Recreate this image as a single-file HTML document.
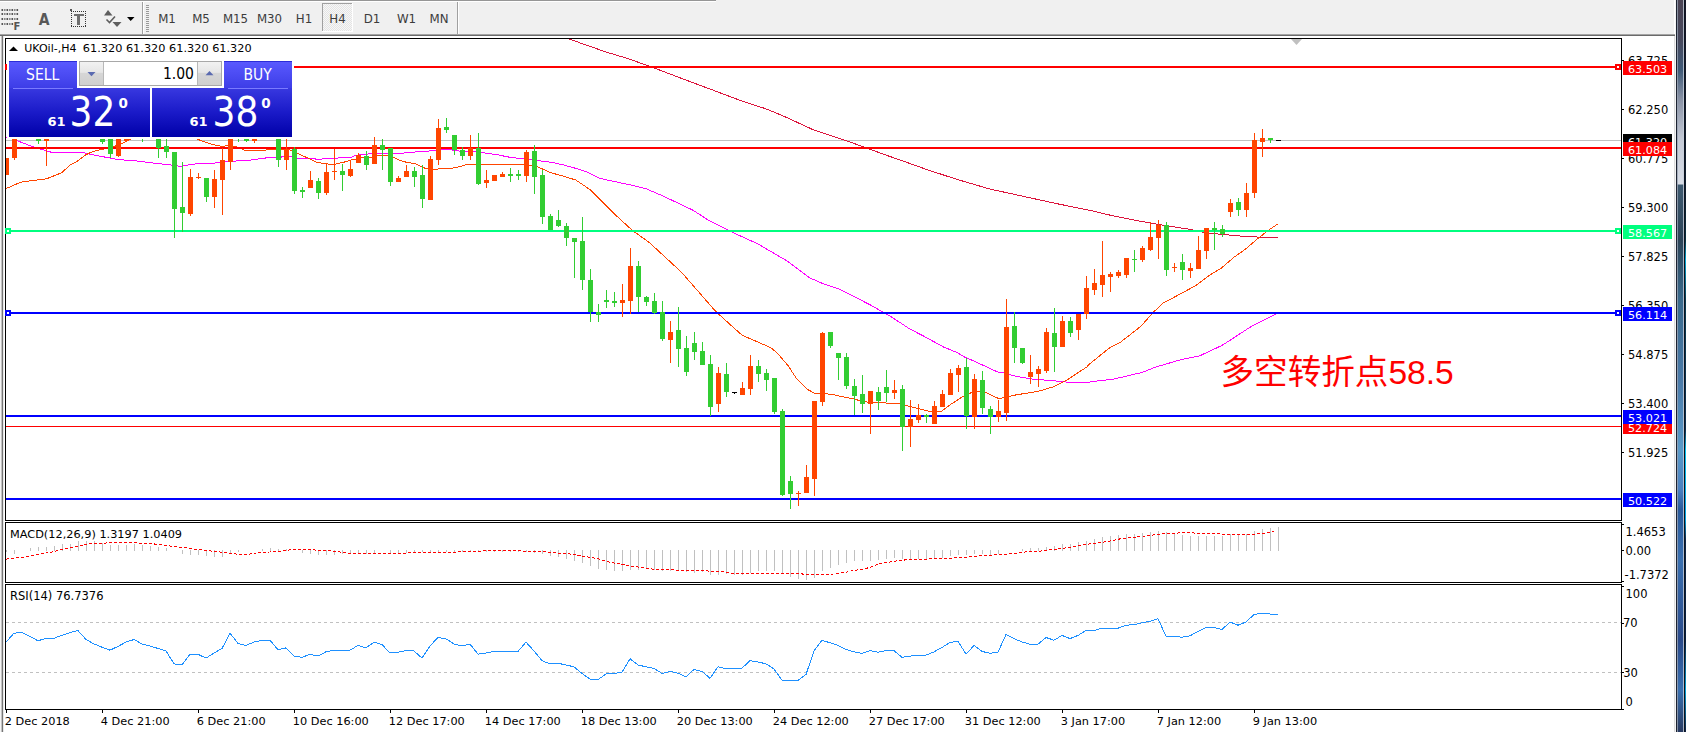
<!DOCTYPE html><html><head><meta charset="utf-8"><title>UKOil H4</title><style>
html,body{margin:0;padding:0;width:1686px;height:732px;overflow:hidden;background:#fff;}
svg{display:block;}
.t{font-family:"DejaVu Sans","Liberation Sans",sans-serif;}
.c{font-family:"DejaVu Sans Condensed","DejaVu Sans","Liberation Sans",sans-serif;font-stretch:condensed;}
.tb{font-family:"DejaVu Sans","Liberation Sans",sans-serif;fill:#3c3c3c;font-size:11.8px;}
</style></head><body>
<svg width="1686" height="732" viewBox="0 0 1686 732">
<defs>
<linearGradient id="gSellTop" x1="0" y1="0" x2="0" y2="1"><stop offset="0" stop-color="#5a5aff"/><stop offset="1" stop-color="#3c3ce6"/></linearGradient>
<linearGradient id="gPrice" x1="0" y1="0" x2="0" y2="1"><stop offset="0" stop-color="#3838e0"/><stop offset="0.5" stop-color="#1a1ac8"/><stop offset="1" stop-color="#0000a8"/></linearGradient>
<linearGradient id="gBtn" x1="0" y1="0" x2="0" y2="1"><stop offset="0" stop-color="#f2f2f2"/><stop offset="0.45" stop-color="#e6e6e6"/><stop offset="0.5" stop-color="#d6d6d6"/><stop offset="1" stop-color="#cfcfcf"/></linearGradient>
<linearGradient id="gFrame" x1="0" y1="0" x2="0" y2="732" gradientUnits="userSpaceOnUse"><stop offset="0.0000" stop-color="#4b4454"/><stop offset="0.0546" stop-color="#47485c"/><stop offset="0.0956" stop-color="#3f5a78"/><stop offset="0.1366" stop-color="#8a93a6"/><stop offset="0.1913" stop-color="#c4cad6"/><stop offset="0.2514" stop-color="#d8dde6"/><stop offset="0.2527" stop-color="#3e5a70"/><stop offset="0.3279" stop-color="#2c4458"/><stop offset="0.4098" stop-color="#3a6a8c"/><stop offset="0.5191" stop-color="#4a7aa8"/><stop offset="0.6148" stop-color="#5a9ac8"/><stop offset="0.6694" stop-color="#4a80c0"/><stop offset="0.6967" stop-color="#2a5a9a"/><stop offset="0.7650" stop-color="#3a70b0"/><stop offset="0.8743" stop-color="#2a4a8a"/><stop offset="0.9426" stop-color="#3a70b0"/><stop offset="1.0000" stop-color="#283a60"/></linearGradient>
<linearGradient id="gEdge" x1="0" y1="0" x2="0" y2="732" gradientUnits="userSpaceOnUse"><stop offset="0.0000" stop-color="#181828"/><stop offset="0.2732" stop-color="#102030"/><stop offset="0.3279" stop-color="#0a3040"/><stop offset="0.3552" stop-color="#00a8d8"/><stop offset="0.4098" stop-color="#0a3a50"/><stop offset="0.5874" stop-color="#103050"/><stop offset="0.6148" stop-color="#00c0f0"/><stop offset="0.7104" stop-color="#00a0e0"/><stop offset="0.7377" stop-color="#102848"/><stop offset="0.8743" stop-color="#0a2040"/><stop offset="0.9426" stop-color="#00a0d8"/><stop offset="1.0000" stop-color="#102040"/></linearGradient>
<pattern id="pDot" width="2" height="2" patternUnits="userSpaceOnUse"><rect width="2" height="2" fill="#f7f7f7"/><rect width="1" height="1" fill="#e4e4e4"/><rect x="1" y="1" width="1" height="1" fill="#e4e4e4"/></pattern>
</defs>
<rect x="0" y="0" width="1674" height="34" fill="#f0f0f0"/>
<rect x="0" y="0" width="716" height="1" fill="#969696"/>
<rect x="0" y="1" width="716" height="1" fill="#ffffff"/>
<rect x="0" y="34" width="1675" height="1" fill="#a4a4a4"/>
<rect x="0" y="35" width="1675" height="1" fill="#6a6a6a"/>
<rect x="1.5" y="9" width="1.6" height="2" fill="#555"/>
<rect x="4" y="9" width="1.6" height="2" fill="#8a8a8a"/>
<rect x="6.5" y="9" width="1.6" height="2" fill="#555"/>
<rect x="9" y="9" width="1.6" height="2" fill="#8a8a8a"/>
<rect x="11.5" y="9" width="1.6" height="2" fill="#555"/>
<rect x="14" y="9" width="1.6" height="2" fill="#8a8a8a"/>
<rect x="16.5" y="9" width="1.6" height="2" fill="#555"/>
<rect x="1.5" y="13" width="1.6" height="2" fill="#555"/>
<rect x="4" y="13" width="1.6" height="2" fill="#8a8a8a"/>
<rect x="6.5" y="13" width="1.6" height="2" fill="#555"/>
<rect x="9" y="13" width="1.6" height="2" fill="#8a8a8a"/>
<rect x="11.5" y="13" width="1.6" height="2" fill="#555"/>
<rect x="14" y="13" width="1.6" height="2" fill="#8a8a8a"/>
<rect x="16.5" y="13" width="1.6" height="2" fill="#555"/>
<rect x="1.5" y="18" width="1.6" height="2" fill="#555"/>
<rect x="4" y="18" width="1.6" height="2" fill="#8a8a8a"/>
<rect x="6.5" y="18" width="1.6" height="2" fill="#555"/>
<rect x="9" y="18" width="1.6" height="2" fill="#8a8a8a"/>
<rect x="11.5" y="18" width="1.6" height="2" fill="#555"/>
<rect x="14" y="18" width="1.6" height="2" fill="#8a8a8a"/>
<rect x="16.5" y="18" width="1.6" height="2" fill="#555"/>
<rect x="1.5" y="23" width="1.6" height="2" fill="#555"/>
<rect x="4" y="23" width="1.6" height="2" fill="#8a8a8a"/>
<rect x="6.5" y="23" width="1.6" height="2" fill="#555"/>
<rect x="9" y="23" width="1.6" height="2" fill="#8a8a8a"/>
<rect x="11.5" y="23" width="1.6" height="2" fill="#555"/>
<text x="13.6" y="30" class="t" style="font-size:10px;font-weight:bold;fill:#555">F</text>
<text x="38.8" y="24.6" class="c" style="font-size:15.5px;font-weight:bold;fill:#585858">A</text>
<rect x="71" y="11" width="1" height="1" fill="#333"/><rect x="71" y="26" width="1" height="1" fill="#333"/>
<rect x="73" y="11" width="1" height="1" fill="#333"/><rect x="73" y="26" width="1" height="1" fill="#333"/>
<rect x="75" y="11" width="1" height="1" fill="#333"/><rect x="75" y="26" width="1" height="1" fill="#333"/>
<rect x="77" y="11" width="1" height="1" fill="#333"/><rect x="77" y="26" width="1" height="1" fill="#333"/>
<rect x="79" y="11" width="1" height="1" fill="#333"/><rect x="79" y="26" width="1" height="1" fill="#333"/>
<rect x="81" y="11" width="1" height="1" fill="#333"/><rect x="81" y="26" width="1" height="1" fill="#333"/>
<rect x="83" y="11" width="1" height="1" fill="#333"/><rect x="83" y="26" width="1" height="1" fill="#333"/>
<rect x="85" y="11" width="1" height="1" fill="#333"/><rect x="85" y="26" width="1" height="1" fill="#333"/>
<rect x="71" y="13" width="1" height="1" fill="#333"/><rect x="85" y="13" width="1" height="1" fill="#333"/>
<rect x="71" y="15" width="1" height="1" fill="#333"/><rect x="85" y="15" width="1" height="1" fill="#333"/>
<rect x="71" y="17" width="1" height="1" fill="#333"/><rect x="85" y="17" width="1" height="1" fill="#333"/>
<rect x="71" y="19" width="1" height="1" fill="#333"/><rect x="85" y="19" width="1" height="1" fill="#333"/>
<rect x="71" y="21" width="1" height="1" fill="#333"/><rect x="85" y="21" width="1" height="1" fill="#333"/>
<rect x="71" y="23" width="1" height="1" fill="#333"/><rect x="85" y="23" width="1" height="1" fill="#333"/>
<rect x="71" y="25" width="1" height="1" fill="#333"/><rect x="85" y="25" width="1" height="1" fill="#333"/>
<rect x="70" y="9" width="2" height="2" fill="#555"/>
<rect x="74" y="14" width="10" height="2" fill="#6e6e6e"/><rect x="77" y="15" width="3" height="10" fill="#6e6e6e"/>
<path d="M104 15.5 L108 10 L112.5 15.5 Z" fill="#5e5e5e"/>
<path d="M106.5 19.5 L109.5 22.5 L115 16.5" stroke="#5e5e5e" stroke-width="1.6" fill="none"/>
<path d="M112.5 22 L121.5 22 L117 27 Z" fill="#5e5e5e"/>
<path d="M127 17 L134.5 17 L130.7 21 Z" fill="#000"/>
<rect x="142" y="2" width="1" height="32" fill="#a0a0a0"/><rect x="143" y="2" width="1" height="32" fill="#ffffff"/>
<rect x="146" y="5" width="3" height="1" fill="#9a9a9a"/>
<rect x="146" y="7" width="3" height="1" fill="#9a9a9a"/>
<rect x="146" y="9" width="3" height="1" fill="#9a9a9a"/>
<rect x="146" y="11" width="3" height="1" fill="#9a9a9a"/>
<rect x="146" y="13" width="3" height="1" fill="#9a9a9a"/>
<rect x="146" y="15" width="3" height="1" fill="#9a9a9a"/>
<rect x="146" y="17" width="3" height="1" fill="#9a9a9a"/>
<rect x="146" y="19" width="3" height="1" fill="#9a9a9a"/>
<rect x="146" y="21" width="3" height="1" fill="#9a9a9a"/>
<rect x="146" y="23" width="3" height="1" fill="#9a9a9a"/>
<rect x="146" y="25" width="3" height="1" fill="#9a9a9a"/>
<rect x="146" y="27" width="3" height="1" fill="#9a9a9a"/>
<rect x="146" y="29" width="3" height="1" fill="#9a9a9a"/>
<rect x="146" y="31" width="3" height="1" fill="#9a9a9a"/>
<rect x="457" y="2" width="1" height="32" fill="#a0a0a0"/><rect x="458" y="2" width="1" height="32" fill="#ffffff"/>
<rect x="322" y="3" width="31" height="29" fill="url(#pDot)"/>
<rect x="322" y="3" width="31" height="1" fill="#a0a0a0"/><rect x="322" y="3" width="1" height="29" fill="#a0a0a0"/>
<rect x="322" y="31" width="31" height="1" fill="#ffffff"/><rect x="352" y="3" width="1" height="29" fill="#ffffff"/>
<text x="167" y="23" class="tb" text-anchor="middle">M1</text>
<text x="201" y="23" class="tb" text-anchor="middle">M5</text>
<text x="235.5" y="23" class="tb" text-anchor="middle">M15</text>
<text x="269.5" y="23" class="tb" text-anchor="middle">M30</text>
<text x="304" y="23" class="tb" text-anchor="middle">H1</text>
<text x="337.5" y="23" class="tb" text-anchor="middle">H4</text>
<text x="372" y="23" class="tb" text-anchor="middle">D1</text>
<text x="406.5" y="23" class="tb" text-anchor="middle">W1</text>
<text x="439" y="23" class="tb" text-anchor="middle">MN</text>
<rect x="0" y="36" width="1" height="696" fill="#f4f4f4"/>
<rect x="1" y="36" width="1" height="696" fill="#c4c4c4"/><rect x="2" y="36" width="1" height="696" fill="#767676"/><rect x="3" y="36" width="1" height="696" fill="#e8e8e8"/>
<rect x="5.5" y="38.5" width="1616" height="482" fill="#fff" stroke="#000" stroke-width="1"/>
<rect x="5.5" y="522.5" width="1616" height="60" fill="#fff" stroke="#000" stroke-width="1"/>
<rect x="5.5" y="584.5" width="1616" height="125" fill="#fff" stroke="#000" stroke-width="1"/>
<svg x="6" y="39" width="1615" height="481" viewBox="6 39 1615 481" overflow="hidden">
<rect x="6" y="140" width="1615" height="1" fill="#c0c0c0"/>
<polyline points="565.0,38.0 568.2,38.7 605.4,51.8 625.6,57.9 648.2,65.7 679.7,77.7 715.8,91.2 742.8,101.4 765.4,108.6 783.4,116.0 812.7,129.5 842.0,139.2 862.3,146.4 887.1,155.5 910.0,163.5 925.8,169.2 955.1,178.8 988.9,188.8 1022.7,196.2 1056.5,203.6 1090.3,210.4 1112.8,215.8 1135.4,220.3 1157.9,224.4 1189.5,229.3 1203.0,232.3 1221.0,234.3 1244.0,236.4 1267.0,237.5 1278.0,237.5" fill="none" stroke="#DC143C" stroke-width="1" stroke-linejoin="round" shape-rendering="crispEdges"/>
<polyline points="6.0,137.0 16.5,140.5 32.3,146.5 51.1,152.2 82.7,152.5 93.2,154.8 114.2,158.9 120.0,159.7 137.8,161.1 155.5,163.3 171.5,165.1 181.3,166.5 191.0,164.2 217.7,162.9 228.3,161.5 250.0,160.1 270.0,157.4 280.8,157.4 283.0,156.2 290.0,156.2 299.3,158.5 314.7,158.5 316.3,159.5 321.7,159.5 323.2,158.3 337.8,158.1 339.4,157.4 351.7,157.4 353.3,156.2 362.5,154.3 378.0,153.5 400.0,153.5 409.6,152.3 426.0,151.4 435.0,150.3 444.0,149.3 451.7,149.9 465.0,151.8 474.0,151.4 484.7,152.9 498.0,154.9 510.0,157.3 523.6,158.8 540.0,160.9 552.0,162.4 564.0,165.1 576.0,168.4 588.0,172.3 598.7,177.9 600.0,178.4 632.0,185.3 646.7,189.0 663.9,196.4 693.4,210.4 708.2,220.2 732.7,232.5 757.3,243.6 786.8,260.8 809.0,277.5 821.2,282.9 840.9,289.8 870.4,305.0 890.1,316.1 910.0,329.1 925.5,337.1 943.3,346.9 957.5,352.7 964.6,357.0 975.2,361.6 989.4,368.2 998.3,372.3 1003.7,373.0 1016.4,376.4 1032.8,379.2 1054.1,380.8 1065.6,382.0 1086.9,382.5 1100.0,380.5 1112.5,379.4 1142.6,372.3 1156.1,366.9 1180.2,359.9 1199.7,355.8 1222.2,345.3 1252.3,325.8 1277.1,313.3" fill="none" stroke="#FF00FF" stroke-width="1" stroke-linejoin="round" shape-rendering="crispEdges"/>
<polyline points="6.0,188.6 18.0,183.4 22.5,181.8 34.6,180.3 46.6,178.8 54.0,175.8 61.6,172.8 70.6,164.6 78.0,160.8 85.7,154.8 93.2,151.3 105.2,148.8 114.2,146.5 120.0,144.3 126.0,141.5 132.0,138.5 150.0,128.0 180.0,126.0 197.3,138.9 200.0,140.2 206.0,142.5 211.9,144.3 217.8,145.5 221.4,146.4 226.7,145.8 233.2,146.1 236.8,147.0 243.3,149.4 245.0,150.5 264.0,150.5 267.6,149.4 275.8,149.3 290.0,150.0 297.0,153.1 307.0,157.7 317.0,162.4 324.0,163.5 331.7,164.5 335.5,164.1 343.2,162.4 351.0,160.1 356.4,158.9 362.5,157.7 371.8,157.4 378.0,155.2 385.7,155.2 393.4,157.4 400.0,160.4 405.0,161.9 415.6,163.9 425.4,168.4 432.0,169.4 441.0,168.8 454.7,167.9 468.0,164.3 489.0,164.3 523.6,164.3 529.6,165.1 537.0,166.6 550.6,172.6 564.0,176.4 576.0,180.1 589.7,189.4 600.0,199.3 617.2,216.5 632.0,230.1 649.2,242.4 666.4,258.3 681.1,271.8 698.3,291.5 715.5,311.2 730.3,324.7 742.3,335.3 756.6,341.5 770.8,347.7 777.1,352.9 787.8,365.3 796.6,378.6 807.3,389.3 814.4,393.2 821.5,393.7 832.2,394.2 841.0,396.4 851.7,398.5 860.6,400.8 869.5,402.6 883.7,402.9 898.9,403.7 906.0,405.5 916.6,408.1 930.8,411.7 941.5,411.3 950.4,404.6 962.8,396.6 971.7,392.5 978.8,391.3 985.9,392.5 998.3,398.4 1003.7,397.8 1016.4,394.8 1037.7,391.5 1054.1,386.6 1065.6,380.8 1077.0,373.4 1086.9,366.9 1090.0,363.6 1109.5,347.9 1120.0,342.6 1141.1,326.1 1153.1,312.5 1163.8,302.5 1175.2,296.7 1186.2,290.8 1196.4,285.1 1209.5,275.2 1221.0,268.4 1234.1,257.2 1245.6,249.0 1257.0,239.2 1268.5,230.2 1277.5,224.1" fill="none" stroke="#FF4500" stroke-width="1" stroke-linejoin="round" shape-rendering="crispEdges"/>
<rect x="6" y="66" width="1615" height="2" fill="#FF0000"/>
<rect x="1615" y="64" width="6" height="6" fill="#FF0000"/><rect x="1617" y="66" width="2" height="2" fill="#fff"/>
<rect x="6" y="147" width="1615" height="2" fill="#FF0000"/>
<rect x="6" y="230" width="1615" height="2" fill="#00FF7F"/>
<rect x="1615" y="228" width="6" height="6" fill="#00FF7F"/><rect x="1617" y="230" width="2" height="2" fill="#fff"/>
<rect x="6" y="312" width="1615" height="2" fill="#0000FF"/>
<rect x="1615" y="310" width="6" height="6" fill="#0000FF"/><rect x="1617" y="312" width="2" height="2" fill="#fff"/>
<rect x="6" y="415" width="1615" height="2" fill="#0000FF"/>
<rect x="6" y="426" width="1615" height="1" fill="#FF0000"/>
<rect x="6" y="498" width="1615" height="2" fill="#0000FF"/>
<rect x="6" y="158" width="1" height="17" fill="#FF4500"/>
<rect x="4" y="158" width="5" height="17" fill="#FF4500"/>
<rect x="14" y="120" width="1" height="40" fill="#FF4500"/>
<rect x="12" y="120" width="5" height="38" fill="#FF4500"/>
<rect x="38" y="120" width="1" height="24" fill="#32CD32"/>
<rect x="36" y="120" width="5" height="21" fill="#32CD32"/>
<rect x="46" y="120" width="1" height="46" fill="#FF4500"/>
<rect x="44" y="120" width="5" height="21" fill="#FF4500"/>
<rect x="102" y="120" width="1" height="24" fill="#32CD32"/>
<rect x="100" y="120" width="5" height="22" fill="#32CD32"/>
<rect x="110" y="120" width="1" height="38" fill="#32CD32"/>
<rect x="108" y="120" width="5" height="34" fill="#32CD32"/>
<rect x="118" y="120" width="1" height="37" fill="#FF4500"/>
<rect x="116" y="120" width="5" height="36" fill="#FF4500"/>
<rect x="126" y="120" width="1" height="21" fill="#FF4500"/>
<rect x="124" y="120" width="5" height="21" fill="#FF4500"/>
<rect x="142" y="120" width="1" height="22" fill="#32CD32"/>
<rect x="140" y="120" width="5" height="17" fill="#32CD32"/>
<rect x="158" y="120" width="1" height="38" fill="#32CD32"/>
<rect x="156" y="120" width="5" height="28" fill="#32CD32"/>
<rect x="166" y="120" width="1" height="38" fill="#32CD32"/>
<rect x="164" y="146" width="5" height="6" fill="#32CD32"/>
<rect x="174" y="152" width="1" height="86" fill="#32CD32"/>
<rect x="172" y="152" width="5" height="57" fill="#32CD32"/>
<rect x="182" y="162" width="1" height="70" fill="#32CD32"/>
<rect x="180" y="207" width="5" height="6" fill="#32CD32"/>
<rect x="190" y="169" width="1" height="47" fill="#FF4500"/>
<rect x="188" y="177" width="5" height="37" fill="#FF4500"/>
<rect x="198" y="173" width="1" height="6" fill="#FF4500"/>
<rect x="196" y="177" width="5" height="1" fill="#FF4500"/>
<rect x="206" y="178" width="1" height="24" fill="#32CD32"/>
<rect x="204" y="178" width="5" height="19" fill="#32CD32"/>
<rect x="214" y="170" width="1" height="38" fill="#FF4500"/>
<rect x="212" y="179" width="5" height="18" fill="#FF4500"/>
<rect x="222" y="148" width="1" height="67" fill="#FF4500"/>
<rect x="220" y="160" width="5" height="20" fill="#FF4500"/>
<rect x="230" y="120" width="1" height="50" fill="#FF4500"/>
<rect x="228" y="120" width="5" height="42" fill="#FF4500"/>
<rect x="238" y="120" width="1" height="22" fill="#32CD32"/>
<rect x="236" y="120" width="5" height="17" fill="#32CD32"/>
<rect x="246" y="120" width="1" height="22" fill="#32CD32"/>
<rect x="244" y="120" width="5" height="21" fill="#32CD32"/>
<rect x="254" y="120" width="1" height="23" fill="#FF4500"/>
<rect x="252" y="120" width="5" height="21" fill="#FF4500"/>
<rect x="278" y="120" width="1" height="47" fill="#32CD32"/>
<rect x="276" y="120" width="5" height="40" fill="#32CD32"/>
<rect x="286" y="120" width="1" height="50" fill="#FF4500"/>
<rect x="284" y="149" width="5" height="11" fill="#FF4500"/>
<rect x="294" y="147" width="1" height="47" fill="#32CD32"/>
<rect x="292" y="149" width="5" height="42" fill="#32CD32"/>
<rect x="302" y="187" width="1" height="11" fill="#32CD32"/>
<rect x="300" y="190" width="5" height="2" fill="#32CD32"/>
<rect x="310" y="171" width="1" height="17" fill="#FF4500"/>
<rect x="308" y="180" width="5" height="8" fill="#FF4500"/>
<rect x="318" y="178" width="1" height="21" fill="#32CD32"/>
<rect x="316" y="181" width="5" height="12" fill="#32CD32"/>
<rect x="326" y="163" width="1" height="32" fill="#FF4500"/>
<rect x="324" y="172" width="5" height="21" fill="#FF4500"/>
<rect x="334" y="149" width="1" height="31" fill="#FF4500"/>
<rect x="332" y="171" width="5" height="1" fill="#FF4500"/>
<rect x="342" y="164" width="1" height="27" fill="#32CD32"/>
<rect x="340" y="171" width="5" height="4" fill="#32CD32"/>
<rect x="350" y="160" width="1" height="17" fill="#FF4500"/>
<rect x="348" y="169" width="5" height="7" fill="#FF4500"/>
<rect x="358" y="153" width="1" height="10" fill="#FF4500"/>
<rect x="356" y="155" width="5" height="8" fill="#FF4500"/>
<rect x="366" y="151" width="1" height="19" fill="#32CD32"/>
<rect x="364" y="156" width="5" height="9" fill="#32CD32"/>
<rect x="374" y="137" width="1" height="27" fill="#FF4500"/>
<rect x="372" y="145" width="5" height="19" fill="#FF4500"/>
<rect x="382" y="139" width="1" height="31" fill="#32CD32"/>
<rect x="380" y="145" width="5" height="5" fill="#32CD32"/>
<rect x="390" y="148" width="1" height="38" fill="#32CD32"/>
<rect x="388" y="148" width="5" height="34" fill="#32CD32"/>
<rect x="398" y="176" width="1" height="6" fill="#FF4500"/>
<rect x="396" y="178" width="5" height="4" fill="#FF4500"/>
<rect x="406" y="165" width="1" height="12" fill="#FF4500"/>
<rect x="404" y="171" width="5" height="6" fill="#FF4500"/>
<rect x="414" y="167" width="1" height="20" fill="#32CD32"/>
<rect x="412" y="171" width="5" height="6" fill="#32CD32"/>
<rect x="422" y="165" width="1" height="43" fill="#32CD32"/>
<rect x="420" y="175" width="5" height="24" fill="#32CD32"/>
<rect x="430" y="156" width="1" height="44" fill="#FF4500"/>
<rect x="428" y="159" width="5" height="41" fill="#FF4500"/>
<rect x="438" y="119" width="1" height="46" fill="#FF4500"/>
<rect x="436" y="128" width="5" height="32" fill="#FF4500"/>
<rect x="446" y="118" width="1" height="15" fill="#32CD32"/>
<rect x="444" y="127" width="5" height="3" fill="#32CD32"/>
<rect x="454" y="135" width="1" height="20" fill="#32CD32"/>
<rect x="452" y="135" width="5" height="15" fill="#32CD32"/>
<rect x="462" y="147" width="1" height="13" fill="#32CD32"/>
<rect x="460" y="150" width="5" height="6" fill="#32CD32"/>
<rect x="470" y="135" width="1" height="25" fill="#FF4500"/>
<rect x="468" y="148" width="5" height="8" fill="#FF4500"/>
<rect x="478" y="133" width="1" height="52" fill="#32CD32"/>
<rect x="476" y="148" width="5" height="36" fill="#32CD32"/>
<rect x="486" y="170" width="1" height="18" fill="#FF4500"/>
<rect x="484" y="180" width="5" height="3" fill="#FF4500"/>
<rect x="494" y="175" width="1" height="6" fill="#FF4500"/>
<rect x="492" y="175" width="5" height="6" fill="#FF4500"/>
<rect x="502" y="172" width="1" height="5" fill="#FF4500"/>
<rect x="500" y="174" width="5" height="3" fill="#FF4500"/>
<rect x="510" y="168" width="1" height="14" fill="#32CD32"/>
<rect x="508" y="174" width="5" height="2" fill="#32CD32"/>
<rect x="518" y="170" width="1" height="10" fill="#32CD32"/>
<rect x="516" y="174" width="5" height="2" fill="#32CD32"/>
<rect x="526" y="150" width="1" height="32" fill="#FF4500"/>
<rect x="524" y="152" width="5" height="24" fill="#FF4500"/>
<rect x="534" y="145" width="1" height="49" fill="#32CD32"/>
<rect x="532" y="151" width="5" height="26" fill="#32CD32"/>
<rect x="542" y="170" width="1" height="54" fill="#32CD32"/>
<rect x="540" y="175" width="5" height="42" fill="#32CD32"/>
<rect x="550" y="214" width="1" height="16" fill="#32CD32"/>
<rect x="548" y="216" width="5" height="14" fill="#32CD32"/>
<rect x="558" y="210" width="1" height="17" fill="#32CD32"/>
<rect x="556" y="220" width="5" height="6" fill="#32CD32"/>
<rect x="566" y="223" width="1" height="23" fill="#32CD32"/>
<rect x="564" y="226" width="5" height="12" fill="#32CD32"/>
<rect x="574" y="238" width="1" height="40" fill="#32CD32"/>
<rect x="572" y="238" width="5" height="4" fill="#32CD32"/>
<rect x="582" y="217" width="1" height="73" fill="#32CD32"/>
<rect x="580" y="241" width="5" height="39" fill="#32CD32"/>
<rect x="590" y="269" width="1" height="53" fill="#32CD32"/>
<rect x="588" y="280" width="5" height="32" fill="#32CD32"/>
<rect x="598" y="304" width="1" height="18" fill="#32CD32"/>
<rect x="596" y="312" width="5" height="3" fill="#32CD32"/>
<rect x="606" y="290" width="1" height="18" fill="#32CD32"/>
<rect x="604" y="300" width="5" height="2" fill="#32CD32"/>
<rect x="614" y="292" width="1" height="15" fill="#32CD32"/>
<rect x="612" y="301" width="5" height="2" fill="#32CD32"/>
<rect x="622" y="284" width="1" height="33" fill="#FF4500"/>
<rect x="620" y="300" width="5" height="3" fill="#FF4500"/>
<rect x="630" y="248" width="1" height="66" fill="#FF4500"/>
<rect x="628" y="266" width="5" height="35" fill="#FF4500"/>
<rect x="638" y="261" width="1" height="51" fill="#32CD32"/>
<rect x="636" y="266" width="5" height="31" fill="#32CD32"/>
<rect x="646" y="296" width="1" height="10" fill="#32CD32"/>
<rect x="644" y="297" width="5" height="5" fill="#32CD32"/>
<rect x="654" y="293" width="1" height="21" fill="#32CD32"/>
<rect x="652" y="301" width="5" height="12" fill="#32CD32"/>
<rect x="662" y="301" width="1" height="40" fill="#32CD32"/>
<rect x="660" y="312" width="5" height="27" fill="#32CD32"/>
<rect x="670" y="321" width="1" height="42" fill="#FF4500"/>
<rect x="668" y="332" width="5" height="8" fill="#FF4500"/>
<rect x="678" y="307" width="1" height="60" fill="#32CD32"/>
<rect x="676" y="330" width="5" height="19" fill="#32CD32"/>
<rect x="686" y="336" width="1" height="40" fill="#32CD32"/>
<rect x="684" y="348" width="5" height="24" fill="#32CD32"/>
<rect x="694" y="332" width="1" height="28" fill="#32CD32"/>
<rect x="692" y="343" width="5" height="9" fill="#32CD32"/>
<rect x="702" y="342" width="1" height="23" fill="#32CD32"/>
<rect x="700" y="351" width="5" height="14" fill="#32CD32"/>
<rect x="710" y="355" width="1" height="61" fill="#32CD32"/>
<rect x="708" y="364" width="5" height="43" fill="#32CD32"/>
<rect x="718" y="367" width="1" height="45" fill="#FF4500"/>
<rect x="716" y="373" width="5" height="31" fill="#FF4500"/>
<rect x="726" y="363" width="1" height="34" fill="#32CD32"/>
<rect x="724" y="374" width="5" height="18" fill="#32CD32"/>
<rect x="732" y="392" width="5" height="1" fill="#000"/>
<rect x="734" y="392" width="1" height="2" fill="#000"/>
<rect x="742" y="382" width="1" height="13" fill="#FF4500"/>
<rect x="740" y="388" width="5" height="7" fill="#FF4500"/>
<rect x="750" y="355" width="1" height="40" fill="#FF4500"/>
<rect x="748" y="366" width="5" height="23" fill="#FF4500"/>
<rect x="758" y="360" width="1" height="22" fill="#32CD32"/>
<rect x="756" y="366" width="5" height="8" fill="#32CD32"/>
<rect x="766" y="369" width="1" height="22" fill="#32CD32"/>
<rect x="764" y="373" width="5" height="7" fill="#32CD32"/>
<rect x="774" y="378" width="1" height="36" fill="#32CD32"/>
<rect x="772" y="378" width="5" height="34" fill="#32CD32"/>
<rect x="782" y="409" width="1" height="87" fill="#32CD32"/>
<rect x="780" y="411" width="5" height="84" fill="#32CD32"/>
<rect x="790" y="476" width="1" height="33" fill="#32CD32"/>
<rect x="788" y="481" width="5" height="13" fill="#32CD32"/>
<rect x="798" y="491" width="1" height="15" fill="#FF4500"/>
<rect x="796" y="493" width="5" height="1" fill="#FF4500"/>
<rect x="806" y="465" width="1" height="28" fill="#FF4500"/>
<rect x="804" y="477" width="5" height="16" fill="#FF4500"/>
<rect x="814" y="401" width="1" height="95" fill="#FF4500"/>
<rect x="812" y="401" width="5" height="78" fill="#FF4500"/>
<rect x="822" y="332" width="1" height="74" fill="#FF4500"/>
<rect x="820" y="333" width="5" height="69" fill="#FF4500"/>
<rect x="830" y="332" width="1" height="16" fill="#32CD32"/>
<rect x="828" y="332" width="5" height="14" fill="#32CD32"/>
<rect x="838" y="353" width="1" height="27" fill="#32CD32"/>
<rect x="836" y="353" width="5" height="5" fill="#32CD32"/>
<rect x="846" y="353" width="1" height="36" fill="#32CD32"/>
<rect x="844" y="357" width="5" height="29" fill="#32CD32"/>
<rect x="854" y="379" width="1" height="36" fill="#32CD32"/>
<rect x="852" y="386" width="5" height="10" fill="#32CD32"/>
<rect x="862" y="375" width="1" height="38" fill="#32CD32"/>
<rect x="860" y="394" width="5" height="10" fill="#32CD32"/>
<rect x="870" y="391" width="1" height="43" fill="#FF4500"/>
<rect x="868" y="391" width="5" height="13" fill="#FF4500"/>
<rect x="878" y="387" width="1" height="23" fill="#32CD32"/>
<rect x="876" y="392" width="5" height="9" fill="#32CD32"/>
<rect x="886" y="370" width="1" height="32" fill="#32CD32"/>
<rect x="884" y="387" width="5" height="6" fill="#32CD32"/>
<rect x="894" y="380" width="1" height="19" fill="#FF4500"/>
<rect x="892" y="390" width="5" height="3" fill="#FF4500"/>
<rect x="902" y="385" width="1" height="66" fill="#32CD32"/>
<rect x="900" y="389" width="5" height="38" fill="#32CD32"/>
<rect x="910" y="400" width="1" height="47" fill="#FF4500"/>
<rect x="908" y="419" width="5" height="8" fill="#FF4500"/>
<rect x="918" y="404" width="1" height="19" fill="#FF4500"/>
<rect x="916" y="415" width="5" height="5" fill="#FF4500"/>
<rect x="926" y="414" width="1" height="9" fill="#32CD32"/>
<rect x="924" y="415" width="5" height="2" fill="#32CD32"/>
<rect x="934" y="401" width="1" height="23" fill="#FF4500"/>
<rect x="932" y="406" width="5" height="18" fill="#FF4500"/>
<rect x="942" y="390" width="1" height="17" fill="#FF4500"/>
<rect x="940" y="394" width="5" height="13" fill="#FF4500"/>
<rect x="950" y="369" width="1" height="26" fill="#FF4500"/>
<rect x="948" y="373" width="5" height="22" fill="#FF4500"/>
<rect x="958" y="365" width="1" height="27" fill="#FF4500"/>
<rect x="956" y="368" width="5" height="7" fill="#FF4500"/>
<rect x="966" y="358" width="1" height="71" fill="#32CD32"/>
<rect x="964" y="367" width="5" height="49" fill="#32CD32"/>
<rect x="974" y="374" width="1" height="55" fill="#FF4500"/>
<rect x="972" y="379" width="5" height="38" fill="#FF4500"/>
<rect x="982" y="371" width="1" height="43" fill="#32CD32"/>
<rect x="980" y="380" width="5" height="28" fill="#32CD32"/>
<rect x="990" y="406" width="1" height="28" fill="#32CD32"/>
<rect x="988" y="409" width="5" height="8" fill="#32CD32"/>
<rect x="998" y="400" width="1" height="22" fill="#FF4500"/>
<rect x="996" y="411" width="5" height="6" fill="#FF4500"/>
<rect x="1006" y="299" width="1" height="122" fill="#FF4500"/>
<rect x="1004" y="327" width="5" height="86" fill="#FF4500"/>
<rect x="1014" y="312" width="1" height="51" fill="#32CD32"/>
<rect x="1012" y="326" width="5" height="22" fill="#32CD32"/>
<rect x="1022" y="348" width="1" height="16" fill="#32CD32"/>
<rect x="1020" y="348" width="5" height="15" fill="#32CD32"/>
<rect x="1030" y="355" width="1" height="29" fill="#FF4500"/>
<rect x="1028" y="372" width="5" height="5" fill="#FF4500"/>
<rect x="1038" y="366" width="1" height="21" fill="#FF4500"/>
<rect x="1036" y="369" width="5" height="5" fill="#FF4500"/>
<rect x="1046" y="328" width="1" height="45" fill="#FF4500"/>
<rect x="1044" y="332" width="5" height="39" fill="#FF4500"/>
<rect x="1054" y="308" width="1" height="64" fill="#32CD32"/>
<rect x="1052" y="333" width="5" height="14" fill="#32CD32"/>
<rect x="1062" y="316" width="1" height="31" fill="#FF4500"/>
<rect x="1060" y="321" width="5" height="26" fill="#FF4500"/>
<rect x="1070" y="317" width="1" height="20" fill="#32CD32"/>
<rect x="1068" y="321" width="5" height="12" fill="#32CD32"/>
<rect x="1078" y="314" width="1" height="26" fill="#FF4500"/>
<rect x="1076" y="314" width="5" height="16" fill="#FF4500"/>
<rect x="1086" y="276" width="1" height="43" fill="#FF4500"/>
<rect x="1084" y="288" width="5" height="26" fill="#FF4500"/>
<rect x="1094" y="269" width="1" height="26" fill="#FF4500"/>
<rect x="1092" y="283" width="5" height="7" fill="#FF4500"/>
<rect x="1102" y="241" width="1" height="56" fill="#FF4500"/>
<rect x="1100" y="275" width="5" height="10" fill="#FF4500"/>
<rect x="1110" y="272" width="1" height="20" fill="#FF4500"/>
<rect x="1108" y="274" width="5" height="3" fill="#FF4500"/>
<rect x="1118" y="270" width="1" height="8" fill="#FF4500"/>
<rect x="1116" y="272" width="5" height="4" fill="#FF4500"/>
<rect x="1126" y="258" width="1" height="20" fill="#FF4500"/>
<rect x="1124" y="258" width="5" height="17" fill="#FF4500"/>
<rect x="1134" y="250" width="1" height="22" fill="#32CD32"/>
<rect x="1132" y="259" width="5" height="1" fill="#32CD32"/>
<rect x="1142" y="246" width="1" height="16" fill="#FF4500"/>
<rect x="1140" y="248" width="5" height="12" fill="#FF4500"/>
<rect x="1150" y="222" width="1" height="29" fill="#FF4500"/>
<rect x="1148" y="237" width="5" height="13" fill="#FF4500"/>
<rect x="1158" y="220" width="1" height="39" fill="#FF4500"/>
<rect x="1156" y="225" width="5" height="13" fill="#FF4500"/>
<rect x="1166" y="222" width="1" height="54" fill="#32CD32"/>
<rect x="1164" y="225" width="5" height="45" fill="#32CD32"/>
<rect x="1174" y="263" width="1" height="9" fill="#FF4500"/>
<rect x="1172" y="267" width="5" height="1" fill="#FF4500"/>
<rect x="1182" y="254" width="1" height="26" fill="#32CD32"/>
<rect x="1180" y="262" width="5" height="8" fill="#32CD32"/>
<rect x="1190" y="263" width="1" height="15" fill="#FF4500"/>
<rect x="1188" y="268" width="5" height="3" fill="#FF4500"/>
<rect x="1198" y="236" width="1" height="33" fill="#FF4500"/>
<rect x="1196" y="250" width="5" height="19" fill="#FF4500"/>
<rect x="1206" y="228" width="1" height="31" fill="#FF4500"/>
<rect x="1204" y="228" width="5" height="23" fill="#FF4500"/>
<rect x="1214" y="222" width="1" height="28" fill="#32CD32"/>
<rect x="1212" y="228" width="5" height="2" fill="#32CD32"/>
<rect x="1222" y="225" width="1" height="12" fill="#32CD32"/>
<rect x="1220" y="229" width="5" height="5" fill="#32CD32"/>
<rect x="1230" y="199" width="1" height="18" fill="#FF4500"/>
<rect x="1228" y="203" width="5" height="9" fill="#FF4500"/>
<rect x="1238" y="198" width="1" height="18" fill="#32CD32"/>
<rect x="1236" y="202" width="5" height="8" fill="#32CD32"/>
<rect x="1246" y="183" width="1" height="34" fill="#FF4500"/>
<rect x="1244" y="193" width="5" height="17" fill="#FF4500"/>
<rect x="1254" y="133" width="1" height="65" fill="#FF4500"/>
<rect x="1252" y="140" width="5" height="53" fill="#FF4500"/>
<rect x="1262" y="129" width="1" height="28" fill="#FF4500"/>
<rect x="1260" y="138" width="5" height="4" fill="#FF4500"/>
<rect x="1270" y="138" width="1" height="5" fill="#32CD32"/>
<rect x="1268" y="138" width="5" height="2" fill="#32CD32"/>
<rect x="1276" y="140" width="5" height="1" fill="#000"/>
<path d="M1291 39 L1302 39 L1296.5 45 Z" fill="#c0c0c0"/>
<text x="1220.5" y="383.5" style="font-family:'Liberation Sans','Noto Sans CJK SC',sans-serif;font-size:33.6px;fill:#FF0000">多空转折点58.5</text>
</svg>
<rect x="5" y="64" width="6" height="6" fill="#FF0000"/><rect x="7" y="66" width="2" height="2" fill="#fff"/>
<rect x="5" y="228" width="6" height="6" fill="#00FF7F"/><rect x="7" y="230" width="2" height="2" fill="#fff"/>
<rect x="5" y="310" width="6" height="6" fill="#0000FF"/><rect x="7" y="312" width="2" height="2" fill="#fff"/>
<rect x="7" y="40" width="287" height="99" fill="#fff"/>
<path d="M9 46 L13.5 41.5 L18 46 Z" fill="#000" transform="translate(0,5)"/>
<text x="24.3" y="51.8" class="t" style="font-size:11px;fill:#000">UKOil-,H4</text>
<text x="82.8" y="51.8" class="t" style="font-size:11.3px;fill:#000">61.320 61.320 61.320 61.320</text>
<rect x="9" y="61" width="68" height="28" fill="url(#gSellTop)"/>
<rect x="224" y="61" width="68" height="28" fill="url(#gSellTop)"/>
<rect x="9" y="88" width="141" height="49" fill="url(#gPrice)"/>
<rect x="152" y="88" width="140" height="49" fill="url(#gPrice)"/>
<rect x="13" y="88" width="60" height="1" fill="#7a7aff"/>
<rect x="9" y="61" width="68" height="1" fill="#2c2cd8"/><rect x="224" y="61" width="68" height="1" fill="#2c2cd8"/>
<rect x="228" y="88" width="60" height="1" fill="#7a7aff"/>
<rect x="77" y="61" width="147" height="27" fill="#fff"/>
<rect x="79.5" y="61.5" width="142" height="24" fill="none" stroke="#a8a8a8"/>
<rect x="80" y="62" width="23" height="23" fill="url(#gBtn)"/><rect x="103" y="62" width="1" height="23" fill="#b8b8b8"/>
<rect x="198" y="62" width="23" height="23" fill="url(#gBtn)"/><rect x="197" y="62" width="1" height="23" fill="#b8b8b8"/>
<path d="M87.5 72 L95.5 72 L91.5 76.3 Z" fill="#5a6ab0"/>
<path d="M205.5 75.2 L213.5 75.2 L209.5 71 Z" fill="#5a6ab0"/>
<text x="194" y="78.8" class="c" text-anchor="end" style="font-size:15.5px;fill:#000">1.00</text>
<text x="42.7" y="80" class="c" text-anchor="middle" style="font-size:15.5px;fill:#fff">SELL</text>
<text x="257.6" y="80" class="c" text-anchor="middle" style="font-size:15.5px;fill:#fff">BUY</text>
<text x="47.5" y="126" class="t" style="font-size:13px;font-weight:bold;fill:#fff">61</text>
<text x="69.5" y="126" class="c" style="font-size:40px;fill:#fff">32</text>
<text x="118.5" y="108" class="t" style="font-size:13.5px;font-weight:bold;fill:#fff">0</text>
<text x="189.5" y="126" class="t" style="font-size:13px;font-weight:bold;fill:#fff">61</text>
<text x="212.5" y="126" class="c" style="font-size:40px;fill:#fff">38</text>
<text x="261.2" y="108" class="t" style="font-size:13.5px;font-weight:bold;fill:#fff">0</text>
<rect x="1622" y="36" width="52" height="696" fill="#fff"/>
<rect x="1622" y="60" width="2" height="1" fill="#000"/>
<text x="1628" y="64.5" class="t" style="font-size:11.5px;fill:#000">63.725</text>
<rect x="1622" y="109" width="2" height="1" fill="#000"/>
<text x="1628" y="113.5" class="t" style="font-size:11.5px;fill:#000">62.250</text>
<rect x="1622" y="158" width="2" height="1" fill="#000"/>
<text x="1628" y="162.5" class="t" style="font-size:11.5px;fill:#000">60.775</text>
<rect x="1622" y="207" width="2" height="1" fill="#000"/>
<text x="1628" y="211.5" class="t" style="font-size:11.5px;fill:#000">59.300</text>
<rect x="1622" y="256" width="2" height="1" fill="#000"/>
<text x="1628" y="260.5" class="t" style="font-size:11.5px;fill:#000">57.825</text>
<rect x="1622" y="305" width="2" height="1" fill="#000"/>
<text x="1628" y="309.5" class="t" style="font-size:11.5px;fill:#000">56.350</text>
<rect x="1622" y="354" width="2" height="1" fill="#000"/>
<text x="1628" y="358.5" class="t" style="font-size:11.5px;fill:#000">54.875</text>
<rect x="1622" y="403" width="2" height="1" fill="#000"/>
<text x="1628" y="407.5" class="t" style="font-size:11.5px;fill:#000">53.400</text>
<rect x="1622" y="452" width="2" height="1" fill="#000"/>
<text x="1628" y="456.5" class="t" style="font-size:11.5px;fill:#000">51.925</text>
<rect x="1623" y="134" width="49" height="14" fill="#000000"/>
<text x="1628" y="145.5" class="t" style="font-size:11.2px;fill:#fff">61.320</text>
<rect x="1623" y="61" width="49" height="14" fill="#FF0000"/>
<text x="1628" y="72.5" class="t" style="font-size:11.2px;fill:#fff">63.503</text>
<rect x="1623" y="142" width="49" height="14" fill="#FF0000"/>
<text x="1628" y="153.5" class="t" style="font-size:11.2px;fill:#fff">61.084</text>
<rect x="1623" y="225" width="49" height="14" fill="#00FF7F"/>
<text x="1628" y="236.5" class="t" style="font-size:11.2px;fill:#fff">58.567</text>
<rect x="1623" y="307" width="49" height="14" fill="#0000FF"/>
<text x="1628" y="318.5" class="t" style="font-size:11.2px;fill:#fff">56.114</text>
<rect x="1623" y="420" width="49" height="14" fill="#FF0000"/>
<text x="1628" y="431.5" class="t" style="font-size:11.2px;fill:#fff">52.724</text>
<rect x="1623" y="410" width="49" height="14" fill="#0000FF"/>
<text x="1628" y="421.5" class="t" style="font-size:11.2px;fill:#fff">53.021</text>
<rect x="1623" y="493" width="49" height="14" fill="#0000FF"/>
<text x="1628" y="504.5" class="t" style="font-size:11.2px;fill:#fff">50.522</text>
<svg x="6" y="523" width="1615" height="59" viewBox="6 523 1615 59" overflow="hidden">
<rect x="6" y="550" width="1" height="2" fill="#c0c0c0"/>
<rect x="14" y="550" width="1" height="4" fill="#c0c0c0"/>
<rect x="30" y="548" width="1" height="3" fill="#c0c0c0"/>
<rect x="38" y="547" width="1" height="4" fill="#c0c0c0"/>
<rect x="46" y="547" width="1" height="4" fill="#c0c0c0"/>
<rect x="54" y="546" width="1" height="5" fill="#c0c0c0"/>
<rect x="62" y="544" width="1" height="7" fill="#c0c0c0"/>
<rect x="70" y="544" width="1" height="7" fill="#c0c0c0"/>
<rect x="78" y="541" width="1" height="10" fill="#c0c0c0"/>
<rect x="86" y="541" width="1" height="10" fill="#c0c0c0"/>
<rect x="94" y="541" width="1" height="10" fill="#c0c0c0"/>
<rect x="102" y="543" width="1" height="8" fill="#c0c0c0"/>
<rect x="110" y="545" width="1" height="6" fill="#c0c0c0"/>
<rect x="118" y="545" width="1" height="6" fill="#c0c0c0"/>
<rect x="126" y="545" width="1" height="6" fill="#c0c0c0"/>
<rect x="134" y="544" width="1" height="7" fill="#c0c0c0"/>
<rect x="142" y="545" width="1" height="6" fill="#c0c0c0"/>
<rect x="150" y="546" width="1" height="5" fill="#c0c0c0"/>
<rect x="158" y="547" width="1" height="4" fill="#c0c0c0"/>
<rect x="166" y="548" width="1" height="3" fill="#c0c0c0"/>
<rect x="182" y="550" width="1" height="4" fill="#c0c0c0"/>
<rect x="190" y="550" width="1" height="5" fill="#c0c0c0"/>
<rect x="198" y="550" width="1" height="5" fill="#c0c0c0"/>
<rect x="206" y="550" width="1" height="6" fill="#c0c0c0"/>
<rect x="214" y="550" width="1" height="7" fill="#c0c0c0"/>
<rect x="222" y="550" width="1" height="7" fill="#c0c0c0"/>
<rect x="230" y="550" width="1" height="4" fill="#c0c0c0"/>
<rect x="238" y="550" width="1" height="2" fill="#c0c0c0"/>
<rect x="262" y="549" width="1" height="2" fill="#c0c0c0"/>
<rect x="270" y="548" width="1" height="3" fill="#c0c0c0"/>
<rect x="278" y="549" width="1" height="2" fill="#c0c0c0"/>
<rect x="286" y="549" width="1" height="2" fill="#c0c0c0"/>
<rect x="302" y="550" width="1" height="3" fill="#c0c0c0"/>
<rect x="310" y="550" width="1" height="4" fill="#c0c0c0"/>
<rect x="318" y="550" width="1" height="5" fill="#c0c0c0"/>
<rect x="326" y="550" width="1" height="5" fill="#c0c0c0"/>
<rect x="334" y="550" width="1" height="5" fill="#c0c0c0"/>
<rect x="342" y="550" width="1" height="4" fill="#c0c0c0"/>
<rect x="350" y="550" width="1" height="4" fill="#c0c0c0"/>
<rect x="358" y="550" width="1" height="4" fill="#c0c0c0"/>
<rect x="366" y="550" width="1" height="4" fill="#c0c0c0"/>
<rect x="374" y="550" width="1" height="3" fill="#c0c0c0"/>
<rect x="390" y="550" width="1" height="3" fill="#c0c0c0"/>
<rect x="398" y="550" width="1" height="3" fill="#c0c0c0"/>
<rect x="406" y="550" width="1" height="3" fill="#c0c0c0"/>
<rect x="414" y="550" width="1" height="3" fill="#c0c0c0"/>
<rect x="422" y="550" width="1" height="2" fill="#c0c0c0"/>
<rect x="430" y="550" width="1" height="2" fill="#c0c0c0"/>
<rect x="438" y="550" width="1" height="2" fill="#c0c0c0"/>
<rect x="446" y="550" width="1" height="2" fill="#c0c0c0"/>
<rect x="454" y="550" width="1" height="2" fill="#c0c0c0"/>
<rect x="462" y="550" width="1" height="2" fill="#c0c0c0"/>
<rect x="470" y="550" width="1" height="2" fill="#c0c0c0"/>
<rect x="478" y="550" width="1" height="2" fill="#c0c0c0"/>
<rect x="486" y="550" width="1" height="2" fill="#c0c0c0"/>
<rect x="494" y="550" width="1" height="2" fill="#c0c0c0"/>
<rect x="502" y="550" width="1" height="2" fill="#c0c0c0"/>
<rect x="510" y="550" width="1" height="2" fill="#c0c0c0"/>
<rect x="518" y="550" width="1" height="2" fill="#c0c0c0"/>
<rect x="526" y="550" width="1" height="2" fill="#c0c0c0"/>
<rect x="534" y="550" width="1" height="3" fill="#c0c0c0"/>
<rect x="542" y="550" width="1" height="4" fill="#c0c0c0"/>
<rect x="550" y="550" width="1" height="6" fill="#c0c0c0"/>
<rect x="558" y="550" width="1" height="7" fill="#c0c0c0"/>
<rect x="566" y="550" width="1" height="9" fill="#c0c0c0"/>
<rect x="574" y="550" width="1" height="11" fill="#c0c0c0"/>
<rect x="582" y="550" width="1" height="13" fill="#c0c0c0"/>
<rect x="590" y="550" width="1" height="16" fill="#c0c0c0"/>
<rect x="598" y="550" width="1" height="19" fill="#c0c0c0"/>
<rect x="606" y="550" width="1" height="20" fill="#c0c0c0"/>
<rect x="614" y="550" width="1" height="21" fill="#c0c0c0"/>
<rect x="622" y="550" width="1" height="21" fill="#c0c0c0"/>
<rect x="630" y="550" width="1" height="20" fill="#c0c0c0"/>
<rect x="638" y="550" width="1" height="20" fill="#c0c0c0"/>
<rect x="646" y="550" width="1" height="19" fill="#c0c0c0"/>
<rect x="654" y="550" width="1" height="20" fill="#c0c0c0"/>
<rect x="662" y="550" width="1" height="21" fill="#c0c0c0"/>
<rect x="670" y="550" width="1" height="21" fill="#c0c0c0"/>
<rect x="678" y="550" width="1" height="21" fill="#c0c0c0"/>
<rect x="686" y="550" width="1" height="22" fill="#c0c0c0"/>
<rect x="694" y="550" width="1" height="23" fill="#c0c0c0"/>
<rect x="702" y="550" width="1" height="22" fill="#c0c0c0"/>
<rect x="710" y="550" width="1" height="25" fill="#c0c0c0"/>
<rect x="718" y="550" width="1" height="25" fill="#c0c0c0"/>
<rect x="726" y="550" width="1" height="24" fill="#c0c0c0"/>
<rect x="734" y="550" width="1" height="25" fill="#c0c0c0"/>
<rect x="742" y="550" width="1" height="25" fill="#c0c0c0"/>
<rect x="750" y="550" width="1" height="23" fill="#c0c0c0"/>
<rect x="758" y="550" width="1" height="21" fill="#c0c0c0"/>
<rect x="766" y="550" width="1" height="21" fill="#c0c0c0"/>
<rect x="774" y="550" width="1" height="21" fill="#c0c0c0"/>
<rect x="782" y="550" width="1" height="24" fill="#c0c0c0"/>
<rect x="790" y="550" width="1" height="27" fill="#c0c0c0"/>
<rect x="798" y="550" width="1" height="29" fill="#c0c0c0"/>
<rect x="806" y="550" width="1" height="30" fill="#c0c0c0"/>
<rect x="814" y="550" width="1" height="28" fill="#c0c0c0"/>
<rect x="822" y="550" width="1" height="21" fill="#c0c0c0"/>
<rect x="830" y="550" width="1" height="18" fill="#c0c0c0"/>
<rect x="838" y="550" width="1" height="15" fill="#c0c0c0"/>
<rect x="846" y="550" width="1" height="13" fill="#c0c0c0"/>
<rect x="854" y="550" width="1" height="11" fill="#c0c0c0"/>
<rect x="862" y="550" width="1" height="11" fill="#c0c0c0"/>
<rect x="870" y="550" width="1" height="11" fill="#c0c0c0"/>
<rect x="878" y="550" width="1" height="10" fill="#c0c0c0"/>
<rect x="886" y="550" width="1" height="9" fill="#c0c0c0"/>
<rect x="894" y="550" width="1" height="8" fill="#c0c0c0"/>
<rect x="902" y="550" width="1" height="9" fill="#c0c0c0"/>
<rect x="910" y="550" width="1" height="9" fill="#c0c0c0"/>
<rect x="918" y="550" width="1" height="9" fill="#c0c0c0"/>
<rect x="926" y="550" width="1" height="9" fill="#c0c0c0"/>
<rect x="934" y="550" width="1" height="8" fill="#c0c0c0"/>
<rect x="942" y="550" width="1" height="8" fill="#c0c0c0"/>
<rect x="950" y="550" width="1" height="6" fill="#c0c0c0"/>
<rect x="958" y="550" width="1" height="5" fill="#c0c0c0"/>
<rect x="966" y="550" width="1" height="5" fill="#c0c0c0"/>
<rect x="974" y="550" width="1" height="4" fill="#c0c0c0"/>
<rect x="982" y="550" width="1" height="4" fill="#c0c0c0"/>
<rect x="990" y="550" width="1" height="5" fill="#c0c0c0"/>
<rect x="998" y="550" width="1" height="4" fill="#c0c0c0"/>
<rect x="1022" y="549" width="1" height="2" fill="#c0c0c0"/>
<rect x="1030" y="548" width="1" height="3" fill="#c0c0c0"/>
<rect x="1038" y="548" width="1" height="3" fill="#c0c0c0"/>
<rect x="1046" y="547" width="1" height="4" fill="#c0c0c0"/>
<rect x="1054" y="546" width="1" height="5" fill="#c0c0c0"/>
<rect x="1062" y="544" width="1" height="7" fill="#c0c0c0"/>
<rect x="1070" y="544" width="1" height="7" fill="#c0c0c0"/>
<rect x="1078" y="542" width="1" height="9" fill="#c0c0c0"/>
<rect x="1086" y="541" width="1" height="10" fill="#c0c0c0"/>
<rect x="1094" y="539" width="1" height="12" fill="#c0c0c0"/>
<rect x="1102" y="537" width="1" height="14" fill="#c0c0c0"/>
<rect x="1110" y="536" width="1" height="15" fill="#c0c0c0"/>
<rect x="1118" y="535" width="1" height="16" fill="#c0c0c0"/>
<rect x="1126" y="534" width="1" height="17" fill="#c0c0c0"/>
<rect x="1134" y="534" width="1" height="17" fill="#c0c0c0"/>
<rect x="1142" y="533" width="1" height="18" fill="#c0c0c0"/>
<rect x="1150" y="532" width="1" height="19" fill="#c0c0c0"/>
<rect x="1158" y="531" width="1" height="20" fill="#c0c0c0"/>
<rect x="1166" y="532" width="1" height="19" fill="#c0c0c0"/>
<rect x="1174" y="533" width="1" height="18" fill="#c0c0c0"/>
<rect x="1182" y="535" width="1" height="16" fill="#c0c0c0"/>
<rect x="1190" y="536" width="1" height="15" fill="#c0c0c0"/>
<rect x="1198" y="536" width="1" height="15" fill="#c0c0c0"/>
<rect x="1206" y="536" width="1" height="15" fill="#c0c0c0"/>
<rect x="1214" y="536" width="1" height="15" fill="#c0c0c0"/>
<rect x="1222" y="536" width="1" height="15" fill="#c0c0c0"/>
<rect x="1230" y="534" width="1" height="17" fill="#c0c0c0"/>
<rect x="1238" y="534" width="1" height="17" fill="#c0c0c0"/>
<rect x="1246" y="534" width="1" height="17" fill="#c0c0c0"/>
<rect x="1254" y="531" width="1" height="20" fill="#c0c0c0"/>
<rect x="1262" y="529" width="1" height="22" fill="#c0c0c0"/>
<rect x="1270" y="528" width="1" height="23" fill="#c0c0c0"/>
<rect x="1278" y="527" width="1" height="24" fill="#c0c0c0"/>
<polyline points="6,559.1 14,558.2 22,557.4 30,555.9 38,554.3 46,553.0 54,551.7 62,549.1 70,547.8 78,546.5 86,544.1 94,543.5 102,543.5 110,542.6 118,542.6 126,542.6 134,542.6 142,543.5 150,543.5 158,544.4 166,545.4 174,546.5 182,547.4 190,548.3 198,549.6 206,550.4 214,551.3 222,552.2 230,553.3 238,554.3 246,554.6 254,553.3 262,552.2 270,552.0 278,551.3 286,550.4 294,549.4 302,549.4 310,549.4 318,550.4 326,550.4 334,551.3 342,552.2 350,553.3 358,553.3 366,553.3 374,553.3 382,553.3 390,553.3 398,553.3 406,553.3 414,552.2 422,552.2 430,552.2 438,552.2 446,552.2 454,552.2 462,551.3 470,551.3 478,551.3 486,550.4 494,550.4 502,550.4 510,550.4 518,550.4 526,551.3 534,551.3 542,551.3 550,552.2 558,553.3 566,553.3 574,554.6 582,556.1 590,557.4 598,558.5 606,561.4 614,563.1 622,564.4 630,566.3 638,567.0 646,568.3 654,569.2 662,569.2 670,569.2 678,570.2 686,570.2 694,570.2 702,570.2 710,571.3 718,571.3 726,572.2 734,573.5 742,573.5 750,573.5 758,573.5 766,573.5 774,573.5 782,573.5 790,573.5 798,573.5 806,574.4 814,574.4 822,574.4 830,574.4 838,573.5 846,572.2 854,570.4 862,569.4 870,567.4 878,564.1 886,562.6 894,561.3 902,560.2 910,559.6 918,559.6 926,559.2 934,558.7 942,558.3 950,558.3 958,557.4 966,557.4 974,556.3 982,555.4 990,555.4 998,554.6 1006,554.4 1014,553.4 1022,552.4 1030,551.4 1038,551.4 1046,550.4 1054,549.4 1062,548.5 1070,547.3 1078,545.6 1086,544.5 1094,543.2 1102,542.3 1110,541.1 1118,539.2 1126,538.2 1134,537.4 1142,536.4 1150,535.4 1158,534.2 1166,533.5 1174,533.5 1182,532.5 1190,532.5 1198,533.5 1206,533.5 1214,533.5 1222,534.2 1230,534.2 1238,534.2 1246,534.2 1254,534.2 1262,533.5 1270,532.5 1274,531.6" fill="none" stroke="#FF0000" stroke-width="1" stroke-dasharray="3,2" shape-rendering="crispEdges"/>
</svg>
<text x="10" y="537.5" class="t" style="font-size:11.3px;fill:#000">MACD(12,26,9) 1.3197 1.0409</text>
<rect x="1622" y="524" width="2" height="1" fill="#000"/><rect x="1622" y="550" width="2" height="1" fill="#000"/><rect x="1622" y="581" width="2" height="1" fill="#000"/>
<text x="1625.5" y="535.5" class="t" style="font-size:11.5px;fill:#000">1.4653</text>
<text x="1625.5" y="554.5" class="t" style="font-size:11.5px;fill:#000">0.00</text>
<text x="1624.5" y="578.5" class="t" style="font-size:11.5px;fill:#000">-1.7372</text>
<svg x="6" y="585" width="1615" height="124" viewBox="6 585 1615 124" overflow="hidden">
<line x1="6" y1="622.5" x2="1621" y2="622.5" stroke="#c0c0c0" stroke-dasharray="3,3"/>
<line x1="6" y1="672.5" x2="1621" y2="672.5" stroke="#c0c0c0" stroke-dasharray="3,3"/>
<polyline points="6,642.1 14,633.2 22,632.4 30,636.5 38,640.8 46,638.3 54,638.3 62,635.2 70,632.6 78,630.6 86,639.5 94,643.9 102,647.2 110,650.2 118,646.4 126,642.1 134,639.5 142,643.9 150,645.9 158,648.5 166,651.0 174,663.8 182,665.0 190,654.3 198,654.3 206,658.1 214,653.0 222,648.5 230,633.2 238,643.4 246,645.4 254,642.1 262,640.3 270,640.3 278,649.7 286,647.9 294,656.1 302,657.4 310,654.3 318,656.1 326,651.8 334,650.2 342,651.0 350,650.2 358,645.4 366,647.9 374,642.1 382,644.6 390,653.0 398,652.3 406,650.5 414,651.0 422,658.1 430,645.9 438,637.5 446,638.8 454,643.9 462,645.9 470,644.1 478,654.1 486,653.0 494,651.5 502,651.5 510,651.5 518,651.5 526,642.1 534,651.0 542,660.7 550,663.8 558,663.2 566,665.0 574,666.8 582,673.5 590,679.1 598,679.6 606,674.0 614,673.5 622,672.2 630,658.7 638,665.0 646,666.8 654,668.4 662,673.5 670,671.4 678,673.2 686,677.0 694,669.4 702,671.4 710,678.3 718,666.8 726,668.9 734,668.9 742,668.1 750,660.7 758,662.0 766,663.8 774,668.9 782,680.3 790,680.3 798,680.3 806,674.5 814,651.0 822,640.3 830,642.8 838,645.3 846,649.5 854,651.9 862,653.3 870,650.6 878,652.2 886,650.6 894,650.6 902,657.3 910,656.2 918,655.1 926,655.1 934,651.9 942,647.4 950,642.6 958,641.2 966,654.1 974,645.5 982,651.4 990,653.3 998,652.2 1006,634.6 1014,638.6 1022,642.0 1030,644.2 1038,644.2 1046,637.5 1054,640.2 1062,635.4 1070,638.6 1078,635.4 1086,630.6 1094,630.6 1102,628.2 1110,628.2 1118,628.2 1126,625.2 1134,624.7 1142,622.8 1150,621.2 1158,618.8 1166,636.2 1174,636.2 1182,637.2 1190,635.9 1198,631.4 1206,627.4 1214,627.4 1222,629.5 1230,622.0 1238,625.2 1246,622.0 1254,614.6 1262,613.2 1270,614.0 1278,614.0" fill="none" stroke="#1E90FF" stroke-width="1" stroke-linejoin="round" shape-rendering="crispEdges"/>
</svg>
<text x="10" y="599.5" class="t" style="font-size:11.5px;fill:#000">RSI(14) 76.7376</text>
<rect x="1622" y="586" width="2" height="1" fill="#000"/>
<text x="1625.5" y="598" class="t" style="font-size:11.5px;fill:#000">100</text>
<rect x="1622" y="623" width="2" height="1" fill="#000"/>
<text x="1623" y="627" class="t" style="font-size:11.5px;fill:#000">70</text>
<rect x="1622" y="672" width="2" height="1" fill="#000"/>
<text x="1623.3" y="676.5" class="t" style="font-size:11.5px;fill:#000">30</text>
<rect x="1622" y="709" width="2" height="1" fill="#000"/>
<text x="1625.5" y="705.5" class="t" style="font-size:11.5px;fill:#000">0</text>
<rect x="6" y="710" width="1" height="3" fill="#000"/>
<text x="4.8" y="725" class="t" style="font-size:11.3px;fill:#000">2 Dec 2018</text>
<rect x="102" y="710" width="1" height="3" fill="#000"/>
<text x="100.8" y="725" class="t" style="font-size:11.3px;fill:#000">4 Dec 21:00</text>
<rect x="198" y="710" width="1" height="3" fill="#000"/>
<text x="196.8" y="725" class="t" style="font-size:11.3px;fill:#000">6 Dec 21:00</text>
<rect x="294" y="710" width="1" height="3" fill="#000"/>
<text x="292.8" y="725" class="t" style="font-size:11.3px;fill:#000">10 Dec 16:00</text>
<rect x="390" y="710" width="1" height="3" fill="#000"/>
<text x="388.8" y="725" class="t" style="font-size:11.3px;fill:#000">12 Dec 17:00</text>
<rect x="486" y="710" width="1" height="3" fill="#000"/>
<text x="484.8" y="725" class="t" style="font-size:11.3px;fill:#000">14 Dec 17:00</text>
<rect x="582" y="710" width="1" height="3" fill="#000"/>
<text x="580.8" y="725" class="t" style="font-size:11.3px;fill:#000">18 Dec 13:00</text>
<rect x="678" y="710" width="1" height="3" fill="#000"/>
<text x="676.8" y="725" class="t" style="font-size:11.3px;fill:#000">20 Dec 13:00</text>
<rect x="774" y="710" width="1" height="3" fill="#000"/>
<text x="772.8" y="725" class="t" style="font-size:11.3px;fill:#000">24 Dec 12:00</text>
<rect x="870" y="710" width="1" height="3" fill="#000"/>
<text x="868.8" y="725" class="t" style="font-size:11.3px;fill:#000">27 Dec 17:00</text>
<rect x="966" y="710" width="1" height="3" fill="#000"/>
<text x="964.8" y="725" class="t" style="font-size:11.3px;fill:#000">31 Dec 12:00</text>
<rect x="1062" y="710" width="1" height="3" fill="#000"/>
<text x="1060.8" y="725" class="t" style="font-size:11.3px;fill:#000">3 Jan 17:00</text>
<rect x="1158" y="710" width="1" height="3" fill="#000"/>
<text x="1156.8" y="725" class="t" style="font-size:11.3px;fill:#000">7 Jan 12:00</text>
<rect x="1254" y="710" width="1" height="3" fill="#000"/>
<text x="1252.8" y="725" class="t" style="font-size:11.3px;fill:#000">9 Jan 13:00</text>
<rect x="1674" y="36" width="1" height="696" fill="#dcdcdc"/>
<rect x="1675" y="0" width="1" height="732" fill="#f4f4f4"/>
<rect x="1676" y="0" width="10" height="732" fill="url(#gFrame)"/>
<rect x="1676" y="0" width="1" height="732" fill="#1c2230"/>
<rect x="1677" y="0" width="1" height="732" fill="#9aa4b4" opacity="0.8"/>
<rect x="1683" y="0" width="1" height="732" fill="#c8d0dc" opacity="0.8"/>
<rect x="1684" y="0" width="1" height="732" fill="#0c1420"/><rect x="1685" y="0" width="1" height="732" fill="url(#gEdge)"/>
</svg></body></html>
